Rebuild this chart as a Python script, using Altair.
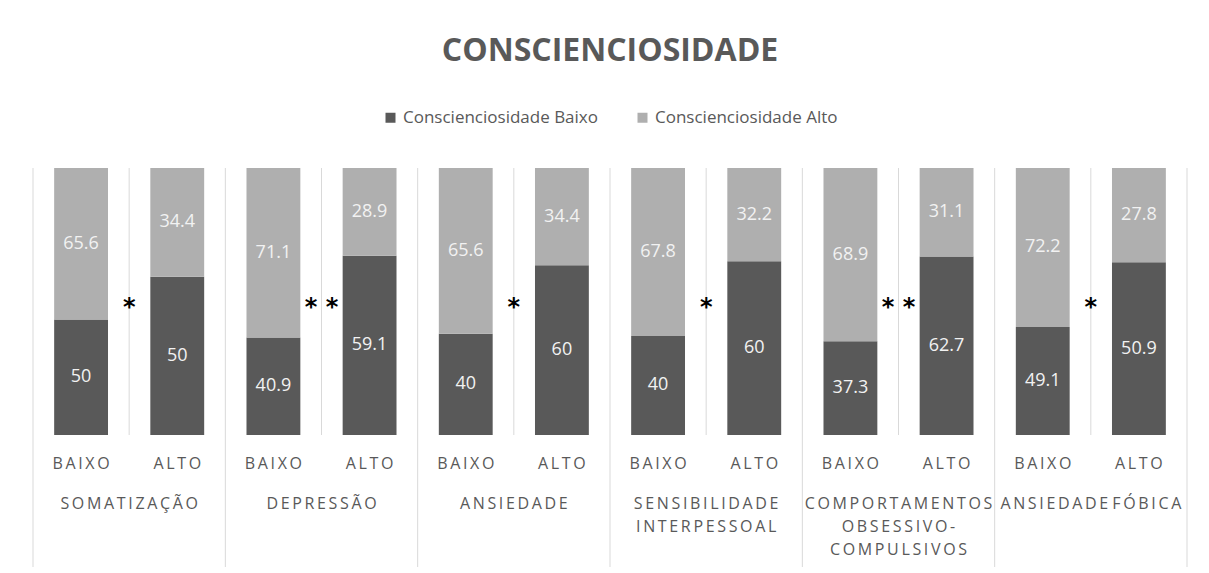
import altair as alt
import pandas as pd

# ---------------- data ----------------
groups = ["SOMATIZAÇÃO", "DEPRESSÃO", "ANSIEDADE", "SENSIBILIDADE\nINTERPESSOAL",
          "COMPORTAMENTOS\nOBSESSIVO-\nCOMPULSIVOS", "ANSIEDADE FÓBICA"]
levels = ["BAIXO", "ALTO"]
series = ["Conscienciosidade Baixo", "Conscienciosidade Alto"]

# Conscienciosidade Baixo (dark) for the BAIXO / ALTO bars of each group
dark_baixo = [50, 40.9, 40, 40, 37.3, 49.1]
dark_alto = [50, 59.1, 60, 60, 62.7, 50.9]
# Conscienciosidade Alto (light) for the BAIXO / ALTO bars of each group
light_baixo = [65.6, 71.1, 65.6, 67.8, 68.9, 72.2]
light_alto = [34.4, 28.9, 34.4, 32.2, 31.1, 27.8]
significance = ["*", "* *", "*", "*", "* *", "*"]

COLORS = ["#595959", "#afafaf"]
TXT = "#595959"
GRID = "#d9d9d9"
FONT = "Open Sans"
W, H = 1154, 267
SP = "\u2009"


def spaced(s):
    return "\n".join(" ".join(SP.join(w) for w in line.split(" ")) for line in s.split("\n"))


keys = [f"{i}-{lv}" for i in range(len(groups)) for lv in levels]

rows = []
for i, g in enumerate(groups):
    vals = {("BAIXO", 0): dark_baixo[i], ("BAIXO", 1): light_baixo[i],
            ("ALTO", 0): dark_alto[i], ("ALTO", 1): light_alto[i]}
    for lv in levels:
        for s_i, s in enumerate(series):
            rows.append({"key": f"{i}-{lv}", "serie": s, "ord": s_i,
                         "value": vals[(lv, s_i)]})
bars_df = pd.DataFrame(rows)

krows = []
for i, g in enumerate(groups):
    for lv in levels:
        krows.append({"key": f"{i}-{lv}", "level": lv, "lvl_txt": spaced(lv),
                      "group_txt": spaced(g), "sig": significance[i],
                      "last": i == len(groups) - 1 and lv == "ALTO"})
keys_df = pd.DataFrame(krows)

xscale = alt.Scale(domain=keys, paddingInner=0, paddingOuter=0)


def X(bp=None, axis=None):
    kw = {}
    if bp is not None:
        kw["bandPosition"] = bp
    return alt.X("key:N", scale=xscale, axis=axis, **kw)


yscale = alt.Scale(domain=[0, 1], nice=False)

base_keys = alt.Chart(keys_df)

inner_rules = base_keys.transform_filter("datum.level == 'ALTO'").mark_rule(
    color=GRID, strokeWidth=1).encode(x=X(0), y=alt.value(0), y2=alt.value(H))

group_rules = base_keys.transform_filter("datum.level == 'BAIXO'").mark_rule(
    color=GRID, strokeWidth=1).encode(x=X(0), y=alt.value(0), y2=alt.value(H + 132))

edge_rule = base_keys.transform_filter("datum.last").mark_rule(
    color=GRID, strokeWidth=1).encode(x=X(1), y=alt.value(0), y2=alt.value(H + 132))

stacked = (
    alt.Chart(bars_df)
    .transform_joinaggregate(total="sum(value)", groupby=["key"])
    .transform_calculate(frac="datum.value / datum.total")
    .transform_stack(stack="frac", as_=["y0", "y1"], groupby=["key"],
                     sort=[alt.SortField("ord", order="ascending")])
    .transform_calculate(mid="(datum.y0 + datum.y1) / 2")
)

bars = stacked.mark_bar(width=alt.RelativeBandSize(0.56)).encode(
    x=X(axis=alt.Axis(labels=False, ticks=False, grid=False, domain=True,
                      domainColor=GRID, title=None)),
    y=alt.Y("y0:Q", scale=yscale, axis=None),
    y2="y1:Q",
    color=alt.Color(
        "serie:N",
        scale=alt.Scale(domain=series, range=COLORS),
        legend=alt.Legend(orient="none", legendX=349, legendY=-59,
                          direction="horizontal", title=None,
                          symbolType="square", symbolSize=100,
                          symbolStrokeWidth=0, labelFont=FONT,
                          labelFontSize=17, labelColor=TXT, labelLimit=0,
                          columnPadding=36, labelOffset=4),
    ),
)

values = stacked.mark_text(font=FONT, fontSize=18, color="#f2f2f2",
                           baseline="middle").encode(
    x=X(),
    y=alt.Y("mid:Q", scale=yscale, axis=None),
    text=alt.Text("value:Q"),
)

stars = base_keys.transform_filter("datum.level == 'ALTO'").mark_text(
    font="DejaVu Sans", fontWeight="bold", fontSize=24, color="#000000",
    baseline="middle", dy=6).encode(
    x=X(0), y=alt.datum(0.5, scale=yscale), text="sig:N")

level_labels = base_keys.mark_text(font=FONT, fontSize=16, color=TXT,
                                   baseline="middle").encode(
    x=X(), y=alt.value(H + 29), text="lvl_txt:N")

group_labels = base_keys.transform_filter("datum.level == 'ALTO'").mark_text(
    font=FONT, fontSize=16, color=TXT, baseline="top", lineBreak="\n",
    lineHeight=23).encode(
    x=X(0), y=alt.value(H + 61), text="group_txt:N")

chart = (
    alt.layer(inner_rules, group_rules, edge_rule, bars, values, stars,
              level_labels, group_labels)
    .properties(
        width=W, height=H,
        title=alt.Title("CONSCIENCIOSIDADE", font=FONT, fontSize=32,
                        fontWeight="bold", color=TXT, anchor="middle",
                        offset=41),
        autosize=alt.AutoSizeParams(type="none"),
        padding={"left": 25, "top": 160, "right": 14, "bottom": 140},
    )
    .configure_view(stroke=None)
)

chart.save("out.html", embed_options={"renderer": "svg", "actions": False})
